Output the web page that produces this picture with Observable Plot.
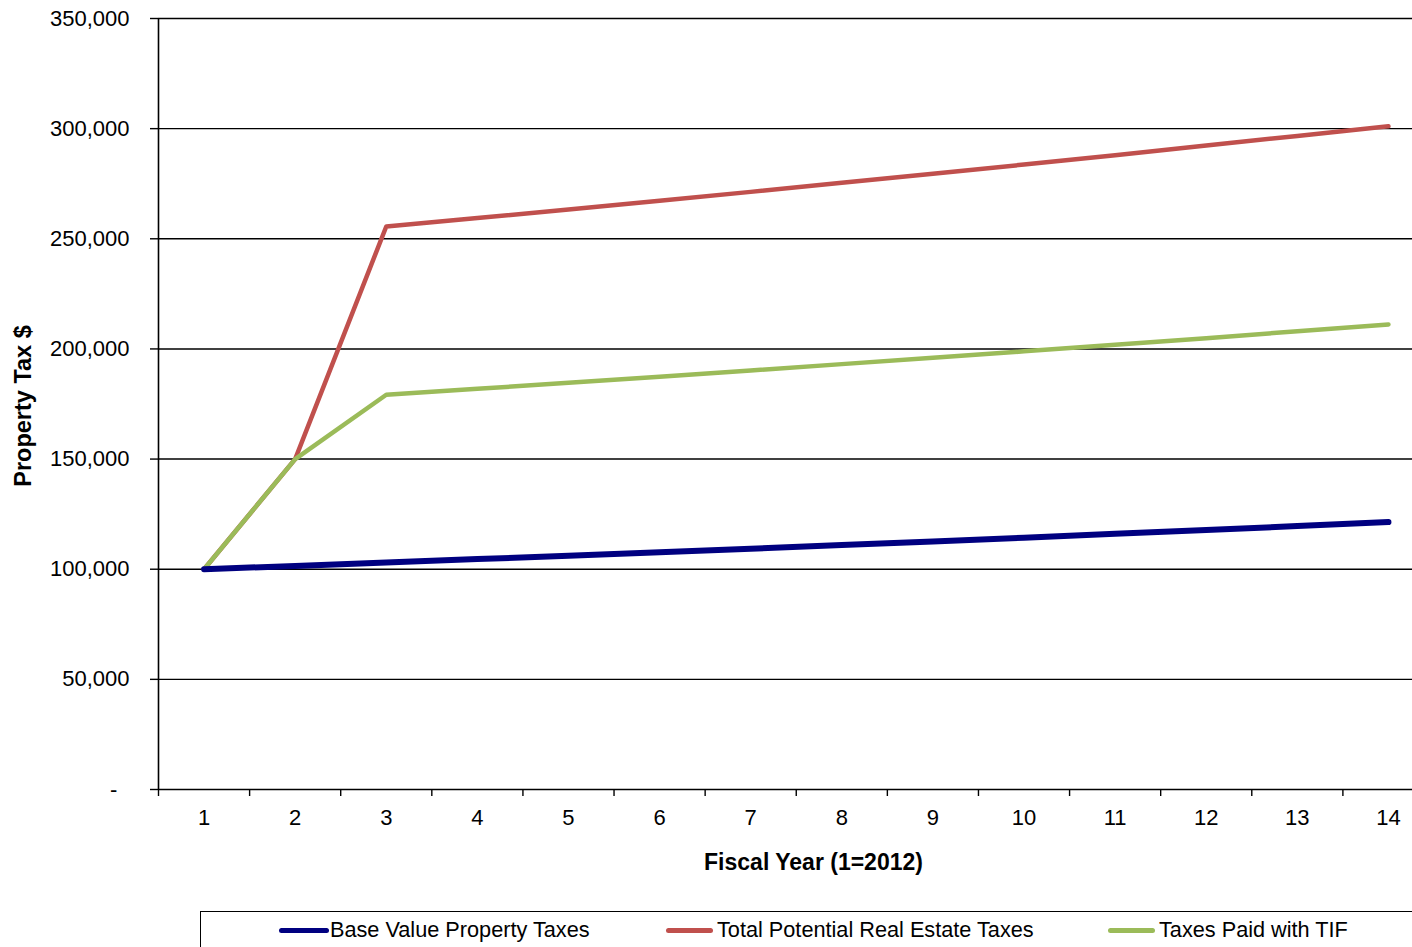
<!DOCTYPE html>
<html><head><meta charset="utf-8">
<script src="https://cdn.jsdelivr.net/npm/d3@7"></script>
<script src="https://cdn.jsdelivr.net/npm/@observablehq/plot@0.6"></script>
<style>
html,body{margin:0;padding:0;background:#fff;overflow:hidden;width:1412px;height:947px;}
#chart svg{display:block;}
#legend{position:absolute;left:200px;top:911px;width:1226px;height:60px;border:1px solid #000;box-sizing:border-box;font-family:"Liberation Sans",Arial,sans-serif;font-size:21.7px;color:#000;}
.item{position:absolute;top:6px;display:flex;align-items:center;white-space:nowrap;line-height:24px;}
.sw{display:inline-block;width:50px;height:5px;border-radius:3px;margin-right:1px;}
</style></head><body>
<div id="chart"></div>
<div id="legend"></div>
<script>
const years = [1,2,3,4,5,6,7,8,9,10,11,12,13,14];
const baseValues  = [100000,101500,103000,104600,106100,107700,109300,111000,112600,114300,116100,117800,119600,121400];
const totalValues = [100000,150000,255600,259400,263300,267300,271300,275400,279500,283700,287900,292300,296700,301100];
const tifValues   = [100000,150000,179200,181900,184600,187400,190200,193100,196000,198900,201900,204900,208000,211100];
const seriesNames  = ["Base Value Property Taxes","Total Potential Real Estate Taxes","Taxes Paid with TIF"];
const seriesColors = ["#000080","#C0504D","#9BBB59"];
const yTicks = [0,50000,100000,150000,200000,250000,300000,350000];
const xBoundaries = [0.5,1.5,2.5,3.5,4.5,5.5,6.5,7.5,8.5,9.5,10.5,11.5,12.5,13.5];
const xTitle = "Fiscal Year (1=2012)";
const yTitle = "Property Tax $";

const mk = vals => years.map((y,i)=>({year:y, value:vals[i]}));
const baseData = mk(baseValues), totalData = mk(totalValues), tifData = mk(tifValues);
const fmt = d3.format(",");

const chart = Plot.plot({
  width: 1412, height: 905,
  marginTop: 18, marginLeft: 158, marginBottom: 116, marginRight: 0,
  style: {fontFamily: "'Liberation Sans', Arial, sans-serif", fontSize: "22px", color: "#000", background: "#fff", overflow: "visible"},
  x: {type: "linear", domain: [0.5, 14.5], range: [158, 1433.5]},
  y: {domain: [0, 350000], range: [789, 18]},
  marks: [
    Plot.ruleY(yTicks.filter(d => d > 0), {stroke: "#000", strokeWidth: 1.4}),
    Plot.axisY({ticks: yTicks, tickSize: 8, tickPadding: 21, tickFormat: d => d === 0 ? "-\u2007" : fmt(d), label: null, stroke: "#000", strokeWidth: 1.4, fontSize: 22}),
    Plot.axisX({ticks: xBoundaries, tickSize: 7, tickFormat: () => "", label: null, stroke: "#000", strokeWidth: 1.4}),
    Plot.axisX({ticks: years, tickSize: 0, tickPadding: 20, label: null, fontSize: 22}),
    Plot.ruleX([0.5], {stroke: "#000", strokeWidth: 1.6}),
    Plot.ruleY([0], {stroke: "#000", strokeWidth: 1.6}),
    Plot.line(totalData, {x: "year", y: "value", stroke: seriesColors[1], strokeWidth: 4.5}),
    Plot.line(tifData, {x: "year", y: "value", stroke: seriesColors[2], strokeWidth: 4.5}),
    Plot.line(baseData, {x: "year", y: "value", stroke: seriesColors[0], strokeWidth: 6}),
    Plot.text([xTitle], {text: d => d, frameAnchor: "bottom", dx: 28, dy: 80, fontWeight: "bold", fontSize: 23}),
    Plot.text([yTitle], {text: d => d, frameAnchor: "left", textAnchor: "middle", rotate: -90, dx: -135, dy: 2, fontWeight: "bold", fontSize: 23.5})
  ]
});
document.getElementById("chart").appendChild(chart);

const legend = document.getElementById("legend");
const lefts = [78, 465, 907];
seriesNames.forEach((name, i) => {
  const it = document.createElement("div");
  it.className = "item";
  it.style.left = lefts[i] + "px";
  const sw = document.createElement("span");
  sw.className = "sw";
  sw.style.background = seriesColors[i];
  sw.style.width = (i === 0 ? 50 : 47) + "px";
  if (i > 0) sw.style.marginRight = "4px";
  it.appendChild(sw);
  const t = document.createElement("span");
  t.textContent = name;
  it.appendChild(t);
  legend.appendChild(it);
});
</script>
</body></html>
